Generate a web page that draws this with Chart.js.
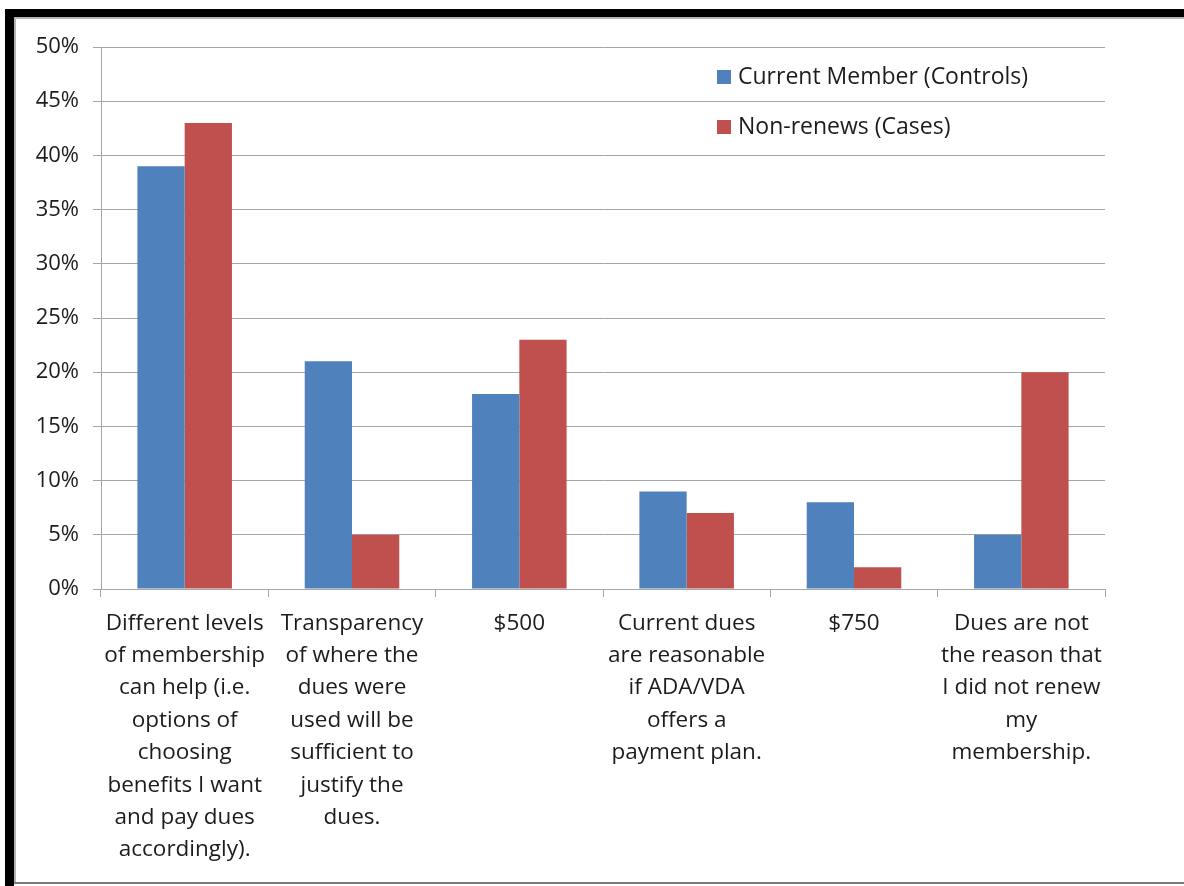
<!DOCTYPE html>
<html>
<head>
<meta charset="utf-8">
<script src="https://cdn.jsdelivr.net/npm/chart.js@4/dist/chart.umd.min.js"></script>
<style>
  html, body { margin: 0; padding: 0; background: #fff; }
  #wrap { position: relative; width: 1184px; height: 886px; overflow: hidden; }
  #duesChart { position: absolute; left: 0; top: 0; }
  .frame-left { position: absolute; left: 5px; top: 9px; width: 9px; height: 900px; background: #000; }
  .frame-top { position: absolute; left: 5px; top: 9px; width: 1200px; height: 8px; background: #000; }
  .frame-inner-l { position: absolute; left: 14px; top: 17px; width: 2px; height: 866px; background: #b5b5b5; }
  .frame-inner-t { position: absolute; left: 14px; top: 17px; width: 1200px; height: 2px; background: #b5b5b5; }
  .frame-bottom { position: absolute; left: 14px; top: 882px; width: 1200px; height: 2px; background: #7a7a7a; }
</style>
</head>
<body>
<div id="wrap">
  <canvas id="duesChart" width="1184" height="886"></canvas>
  <div class="frame-left"></div>
  <div class="frame-top"></div>
  <div class="frame-inner-l"></div>
  <div class="frame-inner-t"></div>
  <div class="frame-bottom"></div>
</div>
<script>
const categories = [
    ['Different levels', 'of membership', 'can help (i.e.', 'options of', 'choosing', 'benefits I want', 'and pay dues', 'accordingly).'],
    ['Transparency', 'of where the', 'dues were', 'used will be', 'sufficient to', 'justify the', 'dues.'],
    ['$500'],
    ['Current dues', 'are reasonable', 'if ADA/VDA', 'offers a', 'payment plan.'],
    ['$750'],
    ['Dues are not', 'the reason that', 'I did not renew', 'my', 'membership.'],
];
const currentMembers = [39, 21, 18, 9, 8, 5];
const nonRenews = [43, 5, 23, 7, 2, 20];
const seriesLabels = ['Current Member (Controls)', 'Non-renews (Cases)'];

const FONT = '"Open Sans", Lato, sans-serif';
const TEXT = '#1c1c1c';
const GRID = '#a6a6a6';

// legend drawn inside the plot, top right, stacked vertically
const innerLegend = {
    id: 'innerLegend',
    afterDraw(chart) {
        const ctx = chart.ctx;
        ctx.save();
        ctx.font = '23px ' + FONT;
        ctx.textBaseline = 'middle';
        chart.data.datasets.forEach((ds, i) => {
            const y = 77 + i * 50;
            ctx.fillStyle = ds.backgroundColor;
            ctx.fillRect(717, y - 7, 14, 14);
            ctx.fillStyle = TEXT;
            ctx.fillText(ds.label, 738, y);
        });
        ctx.restore();
    },
};

new Chart(document.getElementById('duesChart').getContext('2d'), {
    type: 'bar',
    data: {
        labels: categories,
        datasets: [
            {
                label: seriesLabels[0],
                data: currentMembers,
                backgroundColor: '#4F81BD',
                categoryPercentage: 0.565,
                barPercentage: 1.0,
            },
            {
                label: seriesLabels[1],
                data: nonRenews,
                backgroundColor: '#C0504D',
                categoryPercentage: 0.565,
                barPercentage: 1.0,
            },
        ],
    },
    options: {
        responsive: false,
        animation: false,
        layout: { padding: { left: 0, top: 47, right: 79, bottom: 0 } },
        plugins: {
            legend: { display: false },
            tooltip: { enabled: false },
        },
        scales: {
            x: {
                afterFit(scale) { scale.height = 297; },
                grid: {
                    drawOnChartArea: false,
                    drawTicks: true,
                    tickLength: 8,
                    color: GRID,
                },
                border: { color: GRID, width: 1 },
                ticks: {
                    color: TEXT,
                    font: { family: FONT, size: 22.5, lineHeight: 1.44 },
                    padding: 10,
                    maxRotation: 0,
                    autoSkip: false,
                },
            },
            y: {
                min: 0,
                max: 50,
                afterFit(scale) { scale.width = 101; },
                grid: {
                    color: GRID,
                    tickLength: 8,
                },
                border: { color: GRID, width: 1 },
                ticks: {
                    stepSize: 5,
                    color: TEXT,
                    font: { family: FONT, size: 22 },
                    padding: 14,
                    callback: (v) => v + '%',
                },
            },
        },
    },
    plugins: [innerLegend],
});
</script>
</body>
</html>
